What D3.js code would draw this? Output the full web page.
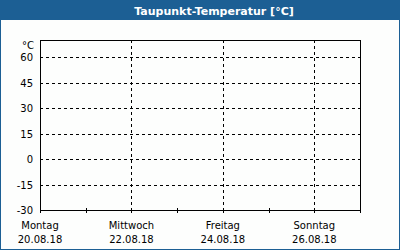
<!DOCTYPE html>
<html>
<head>
<meta charset="utf-8">
<script src="https://cdn.jsdelivr.net/npm/d3@7"></script>
<style>
  body { margin: 0; background: #fff; }
  svg text { font-family: "DejaVu Sans", Verdana, sans-serif; }
</style>
</head>
<body>
<div id="chart"></div>
<script>
// chart data
const title = "Taupunkt-Temperatur [°C]";
const unit = "°C";
const yTicks = [-30, -15, 0, 15, 30, 45, 60];
const yDomain = [-30, 70];
const days = ["20.08.18", "21.08.18", "22.08.18", "23.08.18", "24.08.18", "25.08.18", "26.08.18", "27.08.18"];
const labelDays = ["20.08.18", "22.08.18", "24.08.18", "26.08.18"];
const dayNames = ["Montag", "Mittwoch", "Freitag", "Sonntag"];
const values = []; // no readings shown

const W = 400, H = 250;
const margin = { top: 40, right: 40, bottom: 40, left: 40 };
const blue = "#1c5f94";

const svg = d3.select("#chart").append("svg")
    .attr("width", W)
    .attr("height", H);

// frame + title bar
svg.append("rect").attr("x", 0).attr("y", 0).attr("width", W).attr("height", H).attr("fill", blue);
svg.append("rect").attr("x", 1).attr("y", 20).attr("width", W - 2).attr("height", H - 21).attr("fill", "#fdfefd");
svg.append("text")
    .attr("x", 214).attr("y", 14.5)
    .attr("text-anchor", "middle")
    .attr("fill", "#fff")
    .attr("font-weight", "bold")
    .attr("font-size", 11)
    .text(title);

const parse = d3.timeParse("%d.%m.%y");
const x = d3.scaleTime()
    .domain([parse(days[0]), parse(days[days.length - 1])])
    .range([margin.left, W - margin.right]);
const y = d3.scaleLinear()
    .domain(yDomain)
    .range([H - margin.bottom, margin.top]);

const g = svg.append("g").attr("shape-rendering", "crispEdges");

// horizontal gridlines
g.selectAll(".hgrid")
    .data(yTicks.filter(d => d > yDomain[0]))
    .join("line")
    .attr("x1", margin.left).attr("x2", W - margin.right)
    .attr("y1", d => Math.round(y(d)) + 0.5).attr("y2", d => Math.round(y(d)) + 0.5)
    .attr("stroke", "#000")
    .attr("stroke-dasharray", "3,3");

// vertical gridlines at labelled days
g.selectAll(".vgrid")
    .data(labelDays.slice(1))
    .join("line")
    .attr("x1", d => Math.round(x(parse(d))) + 0.5).attr("x2", d => Math.round(x(parse(d))) + 0.5)
    .attr("y1", margin.top).attr("y2", H - margin.bottom)
    .attr("stroke", "#000")
    .attr("stroke-dasharray", "3,3");

// day ticks
g.selectAll(".tick")
    .data(days)
    .join("line")
    .attr("x1", d => Math.round(x(parse(d))) + 0.5).attr("x2", d => Math.round(x(parse(d))) + 0.5)
    .attr("y1", H - margin.bottom - 2).attr("y2", H - margin.bottom + 3)
    .attr("stroke", "#000");

// plot border
g.append("rect")
    .attr("x", margin.left + 0.5).attr("y", margin.top + 0.5)
    .attr("width", W - margin.left - margin.right)
    .attr("height", H - margin.top - margin.bottom)
    .attr("fill", "none")
    .attr("stroke", "#000");

// y labels
svg.selectAll(".ylab")
    .data(yTicks)
    .join("text")
    .attr("x", 33).attr("y", d => y(d) + 4)
    .attr("text-anchor", "end")
    .attr("font-size", 10)
    .attr("fill", "#000")
    .text(d => d);
svg.append("text")
    .attr("x", 34).attr("y", 49)
    .attr("text-anchor", "end")
    .attr("font-size", 10)
    .attr("fill", "#000")
    .text(unit);

// x labels
svg.selectAll(".xname")
    .data(labelDays)
    .join("text")
    .attr("x", d => x(parse(d)))
    .attr("y", 229)
    .attr("text-anchor", "middle")
    .attr("font-size", 10)
    .attr("fill", "#000")
    .text((d, i) => dayNames[i]);
svg.selectAll(".xdate")
    .data(labelDays)
    .join("text")
    .attr("x", d => x(parse(d)))
    .attr("y", 243)
    .attr("text-anchor", "middle")
    .attr("font-size", 10)
    .attr("fill", "#000")
    .text(d => d);
</script>
</body>
</html>
